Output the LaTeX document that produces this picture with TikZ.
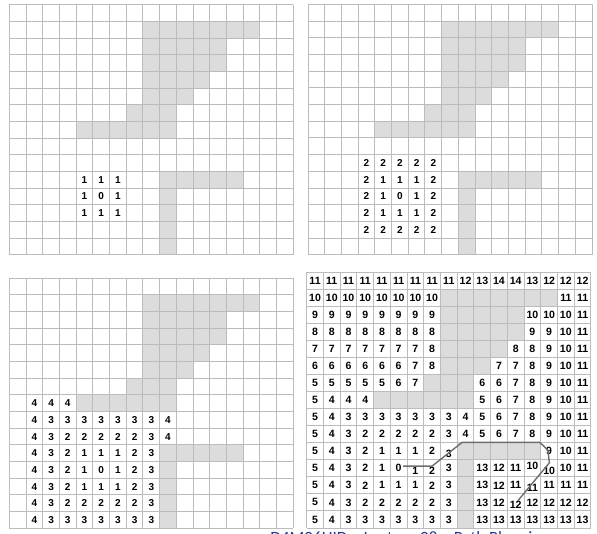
\documentclass[tikz,border=0pt]{standalone}
\usepackage{fontspec}
\setmainfont{Liberation Sans}
\newfontfamily\slidefont{Carlito}
\definecolor{obst}{RGB}{220,220,220}
\definecolor{gline}{RGB}{188,188,188}
\definecolor{titleblue}{RGB}{30,125,205}
\definecolor{footblue}{RGB}{35,55,140}
\definecolor{pathgray}{RGB}{110,110,110}
\tikzset{
  obstacle/.style={fill=obst},
  gridline/.style={draw=gline, line width=0.55pt},
  num/.style={inner sep=0pt, font=\bfseries\fontsize{5.7}{6}\selectfont},
  numbig/.style={inner sep=0pt, font=\bfseries\fontsize{6}{7}\selectfont},
  planpath/.style={draw=pathgray, line width=0.8pt, line join=round},
  titletext/.style={inner sep=0pt, anchor=base west, text=titleblue, font=\slidefont\fontsize{19.8}{22}\selectfont},
  foottext/.style={inner sep=0pt, anchor=base west, text=footblue, font=\slidefont\fontsize{9.8}{11}\selectfont},
}
\newcommand\lowr[1]{\raisebox{-1.5pt}[\height][\depth]{#1}}
\newcommand\highr[1]{\raisebox{1.2pt}[\height][\depth]{#1}}
\newcommand\mapcells{%
  \fill[obstacle] (8,1) rectangle (15,2) (8,2) rectangle (13,4) (8,4) rectangle (12,5)
    (8,5) rectangle (11,6) (7,6) rectangle (10,7) (4,7) rectangle (10,8)
    (9,10) rectangle (14,11) (9,11) rectangle (10,15);
  \foreach \i in {0,...,17} \draw[gridline] (\i,0) -- (\i,15);
  \foreach \j in {0,...,15} \draw[gridline] (0,\j) -- (17,\j);
}
\newcommand\putnums[3]{%
  \foreach \r/\c/\vals in {#3} {
    \foreach \v [count=\k from \c] in \vals {
      \node[#2] (#1-\r-\k) at (\k+0.5,\r+0.5) {\v};
    }
  }
}
\begin{document}
\begin{tikzpicture}
\useasboundingbox (0,0) rectangle (11.94,-10.68);
\clip (0,0) rectangle (11.94,-10.68);
\fill[white] (0,0) rectangle (11.94,-10.68);

% top left
\begin{scope}[xshift=0.186cm, yshift=-0.094cm, x=0.33412cm, y=-0.33333cm]
  \mapcells
  \putnums{tl}{num}{10/4/{1,1,1}, 11/4/{1,0,1}, 12/4/{1,1,1}}
\end{scope}

% top right
\begin{scope}[xshift=6.16cm, yshift=-0.086cm, x=0.33412cm, y=-0.334cm]
  \mapcells
  \putnums{tr}{num}{9/3/{2,2,2,2,2}, 10/3/{2,1,1,1,2}, 11/3/{2,1,0,1,2}, 12/3/{2,1,1,1,2}, 13/3/{2,2,2,2,2}}
\end{scope}

% bottom left
\begin{scope}[xshift=0.186cm, yshift=-5.566cm, x=0.33412cm, y=-0.33333cm]
  \mapcells
  \putnums{bl}{num}{7/1/{4,4,4}, 8/1/{4,3,3,3,3,3,3,3,4}, 9/1/{4,3,2,2,2,2,2,3,4},
    10/1/{4,3,2,1,1,1,2,3}, 11/1/{4,3,2,1,0,1,2,3}, 12/1/{4,3,2,1,1,1,2,3},
    13/1/{4,3,2,2,2,2,2,3}, 14/1/{4,3,3,3,3,3,3,3}}
\end{scope}

% bottom right
\begin{scope}[xshift=6.134cm, yshift=-5.44cm, x=0.3344cm, y=-0.34133cm]
  \mapcells
  \putnums{br}{numbig}{0/0/{11,11,11,11,11,11,11,11,11,12,13,14,14,13,12,12,12},
    1/0/{10,10,10,10,10,10,10,10}, 1/15/{11,11},
    2/0/{9,9,9,9,9,9,9,9}, 2/13/{10,10,10,11},
    3/0/{8,8,8,8,8,8,8,8}, 3/13/{9,9,10,11},
    4/0/{7,7,7,7,7,7,7,8}, 4/12/{8,8,9,10,11},
    5/0/{6,6,6,6,6,6,7,8}, 5/11/{7,7,8,9,10,11},
    6/0/{5,5,5,5,5,6,7}, 6/10/{6,6,7,8,9,10,11},
    7/0/{5,4,4,4}, 7/10/{5,6,7,8,9,10,11},
    8/0/{5,4,3,3,3,3,3,3,3,4,5,6,7,8,9,10,11},
    9/0/{5,4,3,2,2,2,2,2,3,4,5,6,7,8,9,10,11},
    10/0/{5,4,3,2,1,1,1,2,\lowr{3}}, 10/14/{9,10,11},
    11/0/{5,4,3,2,1,0,\lowr{1},\lowr{2},3}, 11/10/{13,12,11,\highr{10},\lowr{10},10,11},
    12/0/{5,4,3,2,1,1,1,2,3}, 12/10/{13,12,11,\lowr{11},11,11,11},
    13/0/{5,4,3,2,2,2,2,2,3}, 13/10/{13,12,\lowr{12},12,12,12,12},
    14/0/{5,4,3,3,3,3,3,3,3}, 14/10/{13,13,13,13,13,13,13}}
\end{scope}

% path and clipped slide texts (pixel coordinates)
\begin{scope}[x=0.02cm, y=-0.02cm]
  \coordinate (p1) at (403,466);
  \coordinate (p2) at (432,466);
  \coordinate (p3) at (462,442.3);
  \coordinate (p4) at (539.7,442.3);
  \coordinate (p5) at (547.7,450);
  \coordinate (p6) at (549.3,462.7);
  \coordinate (p7) at (517.7,500.7);
  \draw[planpath] (p1) -- (p2) -- (p3) -- (p4) -- (p5) -- (p6) -- (p7);
  \node[titletext] (title) at (104,-5.2) {Propagation (Brushfire)};
  \node[foottext] (footer) at (270,543.5) {D4M06HID – Lecture 08 – Path Planning};
\end{scope}
\end{tikzpicture}
\end{document}
